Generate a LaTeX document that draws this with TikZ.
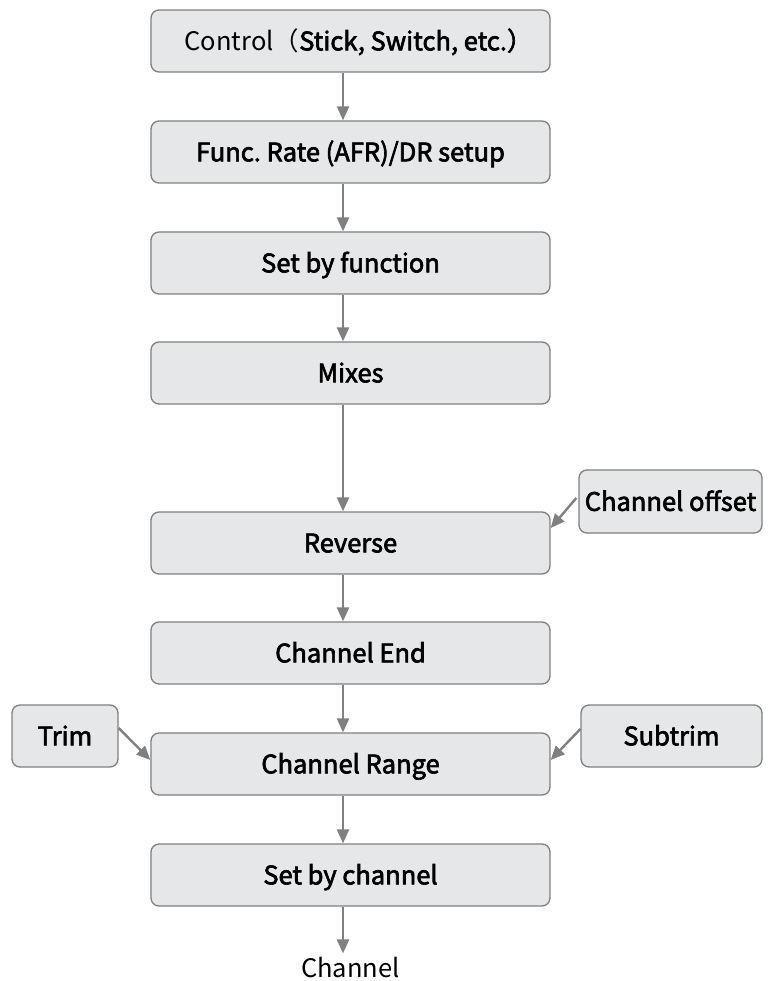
\documentclass[tikz,border=0pt]{standalone}
\usepackage{fontspec}
\setmainfont{Noto Sans CJK SC}
\newfontfamily\medfont{Noto Sans CJK SC}[FakeBold=2.5]
\usetikzlibrary{arrows.meta}
\definecolor{boxfill}{HTML}{E6E7E9}
\definecolor{boxline}{HTML}{7F7F7F}
\definecolor{arrowc}{HTML}{808080}
\begin{document}
\frenchspacing
\begin{tikzpicture}[x=1pt,y=-1pt,
  boxbase/.style={draw=boxline, fill=boxfill, line width=1.3pt, rounded corners=8pt,
    minimum height=62pt, inner sep=0pt, text height=18.7pt, text depth=0pt,
    font=\fontsize{25.5}{30}\selectfont\medfont},
  box/.style={boxbase, minimum width=399pt},
  sidebox/.style={boxbase},
  arr/.style={draw=arrowc, line width=2.4pt, -{Triangle[length=14pt,width=12pt]}}]
\useasboundingbox (0,0) rectangle (773,981);
\node[box] (ctrl) at (350.5,41) {\hspace*{16pt}\rmfamily Control（\medfont Stick, Switch, etc.）};
\node[box] (func) at (350.5,152) {Func. Rate (AFR)/DR setup};
\node[box] (sbf) at (350.5,263) {Set by function};
\node[box] (mix) at (350.5,373) {Mixes};
\node[box] (rev) at (350.5,543) {Reverse};
\node[box] (cend) at (350.5,653) {Channel End};
\node[box] (crange) at (350.5,764) {Channel Range};
\node[box] (sbc) at (350.5,875) {Set by channel};
\node[font=\fontsize{25.5}{30}\selectfont, text height=18.7pt, text depth=0pt, inner sep=0pt] (chan) at (350.5,968) {Channel};
\node[sidebox, minimum width=183pt, minimum height=63pt] (off) at (670.5,501.5) {Channel offset};
\node[sidebox, minimum width=106pt] (trim) at (65,736) {Trim};
\node[sidebox, minimum width=181pt] (sub) at (671.5,736) {Subtrim};
\foreach \a/\b in {ctrl/func, func/sbf, sbf/mix, mix/rev, rev/cend, cend/crange, crange/sbc}
  \draw[arr] ([xshift=-7.5pt]\a.south) -- ([xshift=-7.5pt]\b.north);
\draw[arr] ([xshift=-7.5pt]sbc.south) -- ([xshift=-7.5pt,yshift=5pt]chan.north);
\draw[arr] ([xshift=-2pt,yshift=3.5pt]off.west) -- ([yshift=15pt]rev.east);
\draw[arr] ([yshift=8pt]trim.east) -- ([yshift=4pt]crange.west);
\draw[arr] ([yshift=7pt]sub.west) -- ([yshift=4pt]crange.east);
\end{tikzpicture}
\end{document}
